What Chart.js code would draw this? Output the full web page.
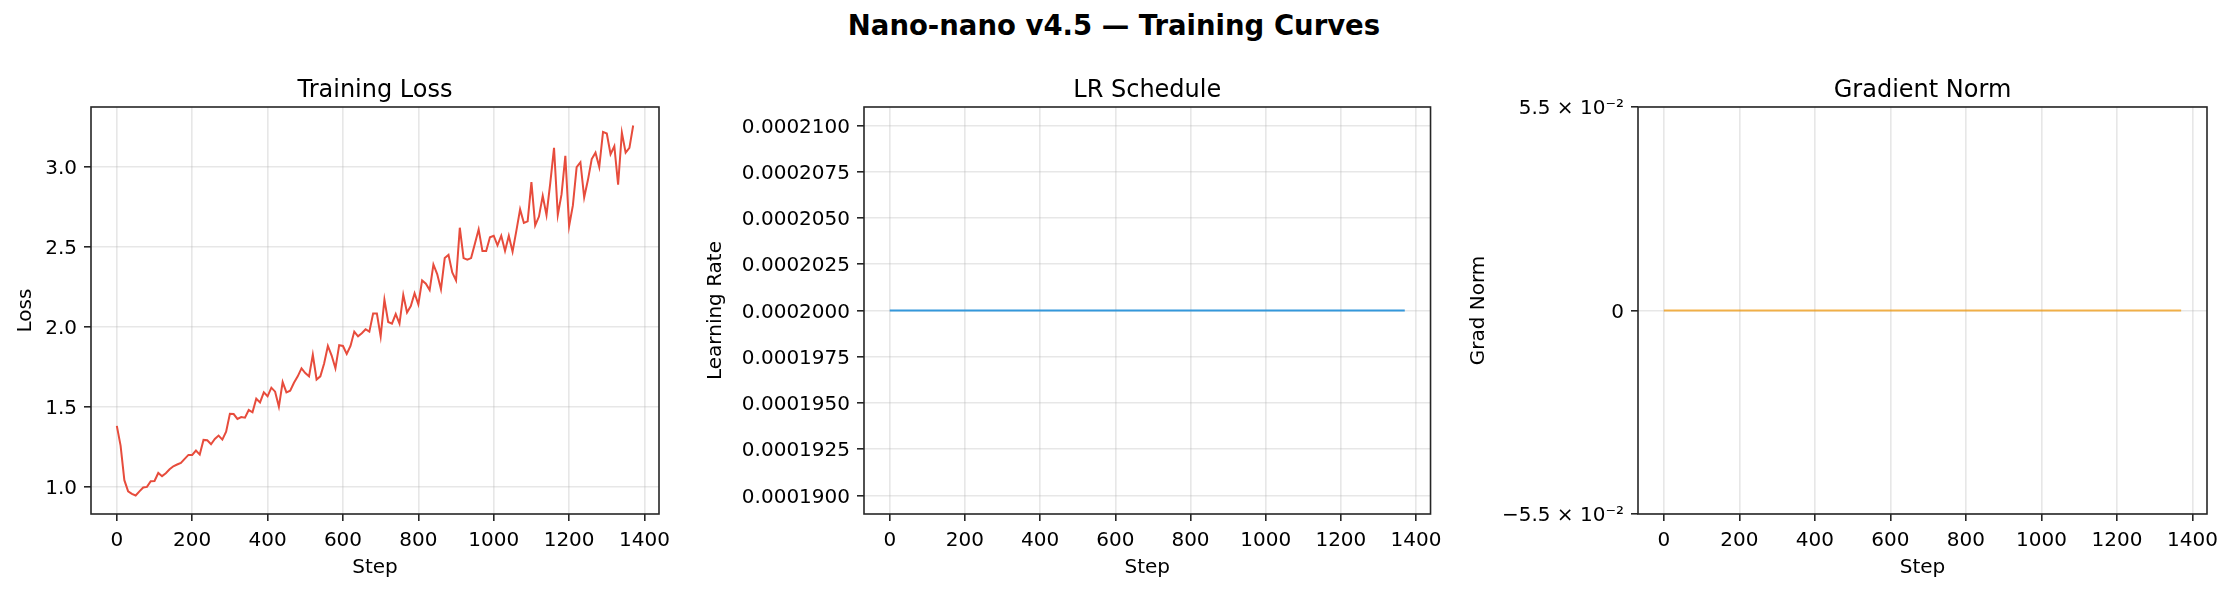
<!DOCTYPE html>
<html>
<head>
<meta charset="utf-8">
<title>Nano-nano v4.5 — Training Curves</title>
<script src="https://cdn.jsdelivr.net/npm/chart.js@4.4.1/dist/chart.umd.min.js"></script>
<style>
    html, body { margin: 0; padding: 0; background: #fff; }
    body { width: 2232px; height: 593px; position: relative; overflow: hidden; font-family: 'DejaVu Sans', sans-serif; }
    #suptitle { position: absolute; left: 0; width: 2228px; top: 11px; text-align: center; font-weight: bold; font-size: 27.5px; line-height: 28px; color: #000; }
    .panel { position: absolute; top: 60px; height: 533px; }
</style>
</head>
<body>
<div id="suptitle">Nano-nano v4.5 — Training Curves</div>
<div class="panel" style="left:0px;width:680px"><canvas id="lossChart"></canvas></div>
<div class="panel" style="left:700px;width:750px"><canvas id="lrChart"></canvas></div>
<div class="panel" style="left:1460px;width:772px"><canvas id="gradChart"></canvas></div>
<script>
// Data
const steps = [
    0, 10, 20, 30, 40, 50, 60, 70, 80, 90, 100, 110, 120, 130,
    140, 150, 160, 170, 180, 190, 200, 210, 220, 230, 240, 250, 260, 270,
    280, 290, 300, 310, 320, 330, 340, 350, 360, 370, 380, 390, 400, 410,
    420, 430, 440, 450, 460, 470, 480, 490, 500, 510, 520, 530, 540, 550,
    560, 570, 580, 590, 600, 610, 620, 630, 640, 650, 660, 670, 680, 690,
    700, 710, 720, 730, 740, 750, 760, 770, 780, 790, 800, 810, 820, 830,
    840, 850, 860, 870, 880, 890, 900, 910, 920, 930, 940, 950, 960, 970,
    980, 990, 1000, 1010, 1020, 1030, 1040, 1050, 1060, 1070, 1080, 1090, 1100, 1110,
    1120, 1130, 1140, 1150, 1160, 1170, 1180, 1190, 1200, 1210, 1220, 1230, 1240, 1250,
    1260, 1270, 1280, 1290, 1300, 1310, 1320, 1330, 1340, 1350, 1360, 1370
];
const lossValues = [
    1.38, 1.256, 1.04, 0.97, 0.954, 0.944, 0.97, 0.994, 0.998, 1.033, 1.035, 1.085, 1.065, 1.083,
    1.108, 1.127, 1.138, 1.148, 1.173, 1.198, 1.198, 1.225, 1.2, 1.292, 1.29, 1.265, 1.298, 1.319,
    1.294, 1.344, 1.456, 1.454, 1.423, 1.435, 1.431, 1.479, 1.465, 1.55, 1.527, 1.59, 1.565, 1.619,
    1.594, 1.5, 1.654, 1.59, 1.6, 1.65, 1.69, 1.74, 1.71, 1.69, 1.825, 1.67, 1.69, 1.77,
    1.88, 1.82, 1.74, 1.885, 1.88, 1.83, 1.88, 1.97, 1.94, 1.96, 1.985, 1.97, 2.083, 2.083,
    1.94, 2.17, 2.03, 2.02, 2.08, 2.02, 2.2, 2.09, 2.13, 2.21, 2.14, 2.29, 2.27, 2.23,
    2.39, 2.33, 2.235, 2.43, 2.45, 2.34, 2.29, 2.62, 2.43, 2.42, 2.43, 2.52, 2.61, 2.475,
    2.475, 2.56, 2.57, 2.51, 2.57, 2.475, 2.57, 2.47, 2.6, 2.735, 2.65, 2.66, 2.906, 2.635,
    2.69, 2.82, 2.70, 2.9, 3.12, 2.70, 2.83, 3.07, 2.63, 2.76, 3.0, 3.03, 2.81, 2.92,
    3.05, 3.09, 3.0, 3.22, 3.21, 3.08, 3.13, 2.89, 3.215, 3.09, 3.12, 3.26
];
const lrSteps = [0, 1370];
const lrValues = [0.0002, 0.0002];
const gradSteps = [0, 1370];
const gradValues = [0, 0];

const stepTicks = [0, 200, 400, 600, 800, 1000, 1200, 1400];
const lossTicks = [1.0, 1.5, 2.0, 2.5, 3.0];
const lrTicks = [0.00019, 0.0001925, 0.000195, 0.0001975, 0.0002, 0.0002025, 0.000205, 0.0002075, 0.00021];
const gradTicks = [-0.055, 0, 0.055];
const gradTickLabels = ['\u22125.5 \u00d7 10\u207b\u00b2', '0', '5.5 \u00d7 10\u207b\u00b2'];

Chart.defaults.font.family = "'DejaVu Sans', sans-serif";
Chart.defaults.color = '#000';

const gridColor = 'rgba(176, 176, 176, 0.3)';
const spineColor = '#262626';

// matplotlib-style autoscale: expand flat data, then add 5% margins
function autoLimits(values) {
    let lo = Math.min(...values);
    let hi = Math.max(...values);
    if (lo === hi) {
        const d = lo === 0 ? 0.05 : Math.abs(lo) * 0.05;
        lo -= d;
        hi += d;
    }
    const m = (hi - lo) * 0.05;
    return [lo - m, hi + m];
}

// draw all four spines on top of the data
const spines = {
    id: 'spines',
    afterDatasetsDraw(chart) {
        const { ctx, chartArea: a } = chart;
        ctx.save();
        ctx.strokeStyle = spineColor;
        ctx.lineWidth = 1.6;
        ctx.strokeRect(a.left, a.top, a.right - a.left, a.bottom - a.top);
        ctx.restore();
    }
};

function makePanel(canvasId, opts) {
    const xLim = autoLimits(opts.xs);
    const yLim = autoLimits(opts.ys);
    return new Chart(document.getElementById(canvasId), {
        type: 'line',
        data: {
            datasets: [{
                data: opts.xs.map((x, i) => ({ x: x, y: opts.ys[i] })),
                borderColor: opts.color,
                borderWidth: 2,
                pointRadius: 0,
                tension: 0,
                fill: false
            }]
        },
        options: {
            responsive: true,
            maintainAspectRatio: false,
            animation: false,
            layout: { padding: { top: 0, left: 0, bottom: 0, right: opts.padRight } },
            plugins: {
                legend: { display: false },
                tooltip: { enabled: false },
                title: {
                    display: true,
                    text: opts.title,
                    fullSize: false,
                    font: { size: 24, weight: 'normal' },
                    color: '#000',
                    padding: { top: 16, bottom: 2.2 }
                }
            },
            scales: {
                x: {
                    type: 'linear',
                    min: xLim[0],
                    max: xLim[1],
                    afterBuildTicks: axis => { axis.ticks = stepTicks.map(v => ({ value: v })); },
                    afterFit: axis => { axis.height = 79; },
                    ticks: { callback: v => String(v), font: { size: 20 }, padding: 8, maxRotation: 0, autoSkip: false },
                    grid: { color: gridColor, lineWidth: 1.6, tickColor: spineColor, tickWidth: 1.6, tickLength: 7 },
                    border: { display: false },
                    title: { display: true, text: 'Step', font: { size: 20 }, padding: { top: 0, bottom: 13 } }
                },
                y: {
                    type: 'linear',
                    min: yLim[0],
                    max: yLim[1],
                    afterBuildTicks: axis => { axis.ticks = opts.yTicks.map(v => ({ value: v })); },
                    afterFit: axis => { axis.width = opts.yAxisWidth; },
                    ticks: { callback: opts.yFormat, font: { size: 20 }, padding: 7, labelOffset: 2, autoSkip: false },
                    grid: { color: gridColor, lineWidth: 1.6, tickColor: spineColor, tickWidth: 1.6, tickLength: 7 },
                    border: { display: false },
                    title: { display: true, text: opts.yLabel, font: { size: 20 }, padding: { top: opts.yTitlePad, bottom: 0 } }
                }
            }
        },
        plugins: [spines]
    });
}

makePanel('lossChart', {
    title: 'Training Loss', yLabel: 'Loss',
    xs: steps, ys: lossValues, color: '#e74c3c',
    yTicks: lossTicks, yFormat: v => v.toFixed(1),
    yAxisWidth: 91, padRight: 21, yTitlePad: 14
});

makePanel('lrChart', {
    title: 'LR Schedule', yLabel: 'Learning Rate',
    xs: lrSteps, ys: lrValues, color: '#3498db',
    yTicks: lrTicks, yFormat: v => v.toFixed(7),
    yAxisWidth: 164, padRight: 18, yTitlePad: 3.5
});

makePanel('gradChart', {
    title: 'Gradient Norm', yLabel: 'Grad Norm',
    xs: gradSteps, ys: gradValues, color: 'rgba(243, 156, 18, 0.75)',
    yTicks: gradTicks, yFormat: (v, i) => gradTickLabels[i],
    yAxisWidth: 178, padRight: 25, yTitlePad: 7
});
</script>
</body>
</html>
